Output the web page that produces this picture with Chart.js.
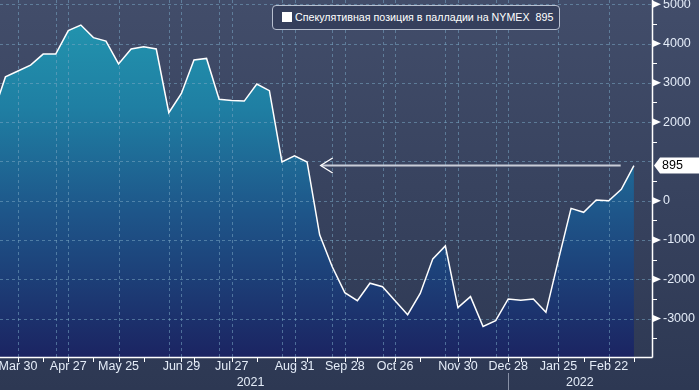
<!DOCTYPE html>
<html>
<head>
<meta charset="utf-8">
<script src="https://cdn.jsdelivr.net/npm/chart.js@4.4.0/dist/chart.umd.min.js"></script>
<style>
  html, body { margin: 0; padding: 0; }
  body {
    width: 699px; height: 390px; overflow: hidden; position: relative;
    background: linear-gradient(#424d6a, #2d3853);
    font-family: 'Liberation Sans', Arial, sans-serif;
  }
  #chart { position: absolute; left: 0; top: 0; }
  .legend {
    position: absolute; left: 272px; top: 5px; width: 288px; height: 25px;
    box-sizing: border-box; border: 1px solid #b7bfcf; border-radius: 4px;
    background: #353f5c; color: #fff; font-size: 10.7px; line-height: 23px;
    white-space: pre;
  }
  .legend .swatch {
    display: inline-block; width: 10px; height: 10px; background: #fff;
    margin: 0 3px 0 9px; vertical-align: -1px;
  }
</style>
</head>
<body>
<canvas id="chart" width="699" height="390"></canvas>
<div class="legend"><span class="swatch"></span>Спекулятивная позиция в палладии на NYMEX  895</div>
<script>
// weekly CFTC dates (Tuesdays), x value = index in this list
const dates = [
  'Mar 16', 'Mar 23', 'Mar 30', 'Apr 6', 'Apr 13', 'Apr 20', 'Apr 27',
  'May 4', 'May 11', 'May 18', 'May 25', 'Jun 1', 'Jun 8', 'Jun 15',
  'Jun 22', 'Jun 29', 'Jul 6', 'Jul 13', 'Jul 20', 'Jul 27', 'Aug 3',
  'Aug 10', 'Aug 17', 'Aug 24', 'Aug 31', 'Sep 7', 'Sep 14', 'Sep 21',
  'Sep 28', 'Oct 5', 'Oct 12', 'Oct 19', 'Oct 26', 'Nov 2', 'Nov 9',
  'Nov 16', 'Nov 23', 'Nov 30', 'Dec 7', 'Dec 14', 'Dec 21', 'Dec 28',
  'Jan 4', 'Jan 11', 'Jan 18', 'Jan 25', 'Feb 1', 'Feb 8', 'Feb 15',
  'Feb 22', 'Mar 1', 'Mar 8'];
const positions = [
  2200, 3150, 3300, 3450, 3730, 3730, 4330, 4470, 4150, 4060, 3480, 3860,
  3920, 3860, 2240, 2730, 3580, 3620, 2580, 2550, 2535, 2970, 2800, 985,
  1140, 985, -870, -1680, -2340, -2545, -2100, -2190, -2545, -2900, -2360,
  -1480, -1150, -2720, -2440, -3200, -3050, -2500, -2530, -2500, -2840,
  -1500, -195, -295, 18, 0, 290, 895];

const xTickIdx = [2, 6, 10, 15, 19, 24, 28, 32, 37, 41, 45, 49];
const xTickLabels = ['Mar 30', 'Apr 27', 'May 25', 'Jun 29', 'Jul 27',
  'Aug 31', 'Sep 28', 'Oct 26', 'Nov 30', 'Dec 28', 'Jan 25', 'Feb 22'];
const xExtraGrid = [5, 14, 18, 23, 27, 31, 36, 40];
const xExtraTicks = [4, 8, 12, 16, 21, 25, 29, 34, 38, 42, 47, 51];
const years = [{label: '2021', at: 20.5}, {label: '2022', at: 46.7}];
const yearBreak = 41;

const yGrid = [5000, 4000, 3000, 2000, 1000, 0, -1000, -2000, -3000];
const yTicks = [5000, 4000, 3000, 2000, 0, -1000, -2000, -3000];
const yMinor = [4500, 3500, 2500, 1500, 500, -500, -1500, -2500, -3500];

const lastValue = positions[positions.length - 1];
const arrowFrom = 26.08;
const arrowTo = 49.95;

const FONT = "'Liberation Sans', Arial, sans-serif";
Chart.defaults.font.family = FONT;

function noPad(s) {
  s.paddingLeft = 0; s.paddingRight = 0; s.paddingTop = 0; s.paddingBottom = 0;
}

function seg(ctx, x1, y1, x2, y2) {
  ctx.beginPath();
  ctx.moveTo(x1, y1);
  ctx.lineTo(x2, y2);
  ctx.stroke();
}

const decor = {
  id: 'decor',
  beforeDatasetsDraw(chart) {
    const {ctx, chartArea: a, scales: {x, y}} = chart;
    ctx.save();
    ctx.beginPath();
    ctx.rect(a.left, a.top, a.right - a.left, a.bottom - a.top);
    ctx.clip();
    ctx.strokeStyle = 'rgba(120,165,195,0.55)';
    ctx.lineWidth = 1;
    ctx.setLineDash([3, 3]);
    xTickIdx.concat(xExtraGrid).forEach((i) => {
      const px = Math.round(x.getPixelForValue(i)) + 0.5;
      seg(ctx, px, a.top, px, a.bottom);
    });
    yGrid.forEach((v) => {
      const py = Math.round(y.getPixelForValue(v)) + 0.5;
      seg(ctx, a.left, py, a.right, py);
    });
    ctx.restore();
  },
  afterDatasetsDraw(chart) {
    const {ctx, chartArea: a, scales: {x, y}} = chart;
    ctx.save();
    ctx.strokeStyle = '#ffffff';
    ctx.fillStyle = '#ffffff';
    ctx.lineWidth = 1.5;
    // axis lines
    seg(ctx, a.left, a.bottom + 0.5, a.right + 0.5, a.bottom + 0.5);
    seg(ctx, a.right + 0.5, a.top, a.right + 0.5, a.bottom + 0.5);
    // x tick marks
    ctx.lineWidth = 1;
    xTickIdx.concat(xExtraTicks).forEach((i) => {
      const px = Math.round(x.getPixelForValue(i)) + 0.5;
      seg(ctx, px, a.bottom, px, a.bottom + 5);
    });
    // y minor ticks and major triangles
    yMinor.forEach((v) => {
      const py = Math.round(y.getPixelForValue(v)) + 0.5;
      seg(ctx, a.right, py, a.right + 5, py);
    });
    yTicks.forEach((v) => {
      const py = y.getPixelForValue(v);
      ctx.beginPath();
      ctx.moveTo(a.right + 1, py - 3.5);
      ctx.lineTo(a.right + 9, py);
      ctx.lineTo(a.right + 1, py + 3.5);
      ctx.closePath();
      ctx.fill();
    });
    // year labels and separator
    ctx.fillStyle = '#e4ecf8';
    ctx.font = '12.5px ' + FONT;
    ctx.textAlign = 'center';
    ctx.textBaseline = 'middle';
    years.forEach((yr) => ctx.fillText(yr.label, x.getPixelForValue(yr.at), 383));
    ctx.strokeStyle = '#8790a6';
    const bx = Math.round(x.getPixelForValue(yearBreak)) + 0.5;
    seg(ctx, bx, 373, bx, 390);
    // arrow toward the last value
    const ay = y.getPixelForValue(lastValue);
    const ax1 = x.getPixelForValue(arrowFrom);
    const ax2 = x.getPixelForValue(arrowTo);
    ctx.strokeStyle = '#c9cdd8';
    ctx.lineWidth = 2;
    seg(ctx, ax1 + 1, ay, ax2, ay);
    ctx.strokeStyle = '#ffffff';
    ctx.lineWidth = 1.3;
    ctx.beginPath();
    ctx.moveTo(ax1 + 12, ay - 7.5);
    ctx.lineTo(ax1, ay);
    ctx.lineTo(ax1 + 12, ay + 7.5);
    ctx.stroke();
    // last value badge on the axis
    const bl = a.right + 2;
    ctx.fillStyle = '#ffffff';
    ctx.beginPath();
    ctx.moveTo(bl, ay);
    ctx.lineTo(bl + 6, ay - 8);
    ctx.lineTo(chart.width, ay - 8);
    ctx.lineTo(chart.width, ay + 8);
    ctx.lineTo(bl + 6, ay + 8);
    ctx.closePath();
    ctx.fill();
    ctx.fillStyle = '#000000';
    ctx.textAlign = 'left';
    ctx.fillText(String(lastValue), a.right + 10, ay + 0.5);
    ctx.restore();
  },
};

new Chart(document.getElementById('chart'), {
  type: 'line',
  data: {
    datasets: [{
      data: positions.map((v, i) => ({x: i, y: v})),
      borderColor: '#ffffff',
      borderWidth: 1.5,
      pointRadius: 0,
      tension: 0,
      fill: 'start',
      clip: 0,
      backgroundColor: (c) => {
        const area = c.chart.chartArea;
        if (!area) return '#1f6a98';
        const g = c.chart.ctx.createLinearGradient(0, area.top, 0, area.bottom);
        g.addColorStop(0, '#2399b1');
        g.addColorStop(0.3, '#1f7fa3');
        g.addColorStop(0.6, '#1e5589');
        g.addColorStop(1, '#1b2462');
        return g;
      },
    }],
  },
  options: {
    responsive: false,
    animation: false,
    devicePixelRatio: 1,
    layout: {padding: 0},
    plugins: {
      legend: {display: false},
      tooltip: {enabled: false},
      filler: {drawTime: 'beforeDatasetsDraw'},
    },
    scales: {
      x: {
        type: 'linear',
        min: 0.568,
        max: 52.44,
        afterBuildTicks: (s) => {
          s.ticks = xTickIdx.map((v) => ({value: v}));
        },
        afterFit: (s) => {
          s.height = 33; noPad(s);
        },
        ticks: {
          autoSkip: false,
          maxRotation: 0,
          padding: 2,
          color: '#e4ecf8',
          font: {size: 12.5},
          callback: (v) => xTickLabels[xTickIdx.indexOf(v)],
        },
        grid: {display: false, drawTicks: false},
        border: {display: false},
      },
      y: {
        position: 'right',
        min: -3977,
        max: 5107,
        afterBuildTicks: (s) => {
          s.ticks = yTicks.map((v) => ({value: v}));
        },
        afterFit: (s) => {
          s.width = 47; noPad(s);
        },
        ticks: {
          padding: 11,
          color: '#e4ecf8',
          font: {size: 12.5},
          callback: (v) => String(v),
        },
        grid: {display: false, drawTicks: false},
        border: {display: false},
      },
    },
  },
  plugins: [decor],
});
</script>
</body>
</html>
